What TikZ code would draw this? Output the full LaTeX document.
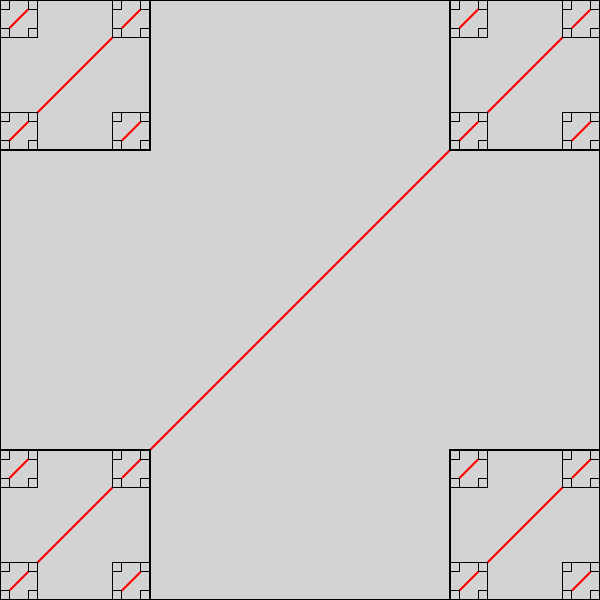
\documentclass[tikz,border=0pt]{standalone}
\definecolor{bgray}{RGB}{211,211,211}
\tikzset{
  sq/.style={draw=black, fill=bgray, line width=0.3pt},
  diag/.style={draw=red, line width=0.6pt}
}
\begin{document}
\begin{tikzpicture}
\useasboundingbox (0,0) rectangle (6,6);
\path[sq] (0,0) rectangle (6,6);
\draw[diag] (1.5,1.5) -- (4.5,4.5);
\foreach \ax in {0,4.5} \foreach \ay in {0,4.5} {
  \path[sq] (\ax,\ay) rectangle ++(1.5,1.5);
  \draw[diag] ({\ax+0.375},{\ay+0.375}) -- ({\ax+1.125},{\ay+1.125});
  \foreach \bx in {0,1.125} \foreach \by in {0,1.125} {
    \path[sq] ({\ax+\bx},{\ay+\by}) rectangle ++(0.375,0.375);
    \draw[diag] ({\ax+\bx+0.09375},{\ay+\by+0.09375}) -- ({\ax+\bx+0.28125},{\ay+\by+0.28125});
    \foreach \cx in {0,0.28125} \foreach \cy in {0,0.28125} {
      \path[sq] ({\ax+\bx+\cx},{\ay+\by+\cy}) rectangle ++(0.09375,0.09375);
    }
  }
}
\end{tikzpicture}
\end{document}
